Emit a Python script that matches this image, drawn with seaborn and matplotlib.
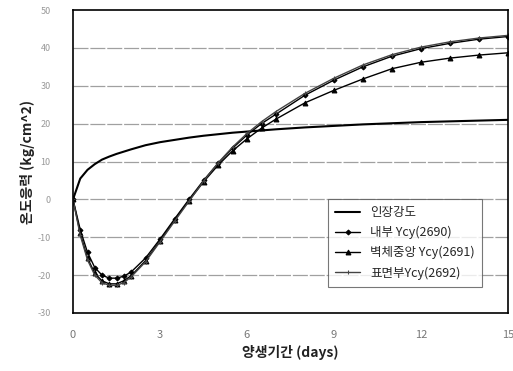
import matplotlib
matplotlib.use("Agg")
import matplotlib.pyplot as plt
import seaborn as sns
import pandas as pd

days = [0, 0.25, 0.5, 0.75, 1, 1.25, 1.5, 1.75, 2, 2.5, 3, 3.5, 4, 4.5, 5, 5.5,
        6, 6.5, 7, 8, 9, 10, 11, 12, 13, 14, 15]
tensile = [0, 5.5, 7.8, 9.3, 10.5, 11.3, 12.0, 12.6, 13.2, 14.3, 15.1, 15.7, 16.3,
           16.8, 17.2, 17.6, 17.9, 18.2, 18.5, 19.0, 19.4, 19.8, 20.1, 20.4, 20.6, 20.8, 21.0]
inner = [0, -8, -14, -18, -20, -20.8, -20.8, -20.3, -19.2, -15.5, -10.5, -5.2, 0,
         5, 9.5, 13.5, 17, 20, 22.5, 27.5, 31.5, 35, 37.8, 39.8, 41.2, 42.3, 43]
middle = [0, -9, -15.5, -19.5, -21.5, -22.3, -22.3, -21.5, -20.2, -16.2, -11, -5.5, -0.3,
          4.6, 9, 12.8, 16, 18.8, 21.2, 25.5, 28.8, 31.8, 34.5, 36.2, 37.3, 38.1, 38.7]
surface = [0, -9.5, -16, -20, -22, -22.7, -22.7, -22, -20.5, -16.5, -11.2, -5.8, -0.5,
           4.8, 9.6, 13.8, 17.4, 20.5, 23.2, 28, 32, 35.5, 38.2, 40.2, 41.6, 42.6, 43.3]

labels = ["인장강도", "내부 Ycy(2690)", "벽체중앙 Ycy(2691)", "표면부Ycy(2692)"]
xticks = [0, 3, 6, 9, 12, 15]
yticks = [-30, -20, -10, 0, 10, 20, 30, 40, 50]

sns.set_theme(style="white")
plt.rcParams['font.family'] = ['Noto Sans CJK KR', 'DejaVu Sans']

fig = plt.figure(figsize=(5.13, 3.71), dpi=100)
ax = fig.add_axes([73/513, 1-313/371, (508-73)/513, (313-10)/371])

df = pd.DataFrame({"days": days, "t": tensile, "i": inner, "m": middle, "s": surface})

for yv in yticks[1:-1]:
    ax.axhline(yv, color="#a0a0a0", lw=0.9, ls=(0, (12, 1.5)), zorder=0)

sns.lineplot(data=df, x="days", y="t", ax=ax, color="black", lw=1.5, label=labels[0])
sns.lineplot(data=df, x="days", y="i", ax=ax, color="black", lw=1.0, marker="D",
             markersize=2.5, markeredgecolor="black", label=labels[1])
sns.lineplot(data=df, x="days", y="m", ax=ax, color="black", lw=1.0, marker="^",
             markersize=3.5, markeredgecolor="black", label=labels[2])
sns.lineplot(data=df, x="days", y="s", ax=ax, color="#444444", lw=1.0, marker="+",
             markersize=3.5, markeredgecolor="#444444", label=labels[3])

ax.set_xlim(0, 15)
ax.set_ylim(-30, 50)
ax.set_xticks(xticks)
ax.set_yticks(yticks)
ax.set_xticklabels([str(v) for v in xticks], color="#777777", fontsize=8)
ax.set_yticklabels([str(v) for v in yticks], color="#999999", fontsize=6.5)
ax.tick_params(axis="x", pad=12, length=0)
ax.tick_params(axis="y", pad=16, length=0)
for s in ax.spines.values():
    s.set_color("black")
    s.set_linewidth(1.2)

ax.set_xlabel("양생기간 (days)", fontsize=10, fontweight="bold", color="#222222", labelpad=4)
ax.set_ylabel("온도응력 (kg/cm^2)", fontsize=10, fontweight="bold", color="#222222", labelpad=2)

leg = ax.legend(loc="lower right", bbox_to_anchor=(0.955, 0.065), fontsize=9,
                frameon=True, fancybox=False, edgecolor="#555555", handlelength=2.0,
                borderpad=0.6, labelspacing=0.55)
leg.get_frame().set_linewidth(0.8)

fig.savefig("out.png", dpi=100)
